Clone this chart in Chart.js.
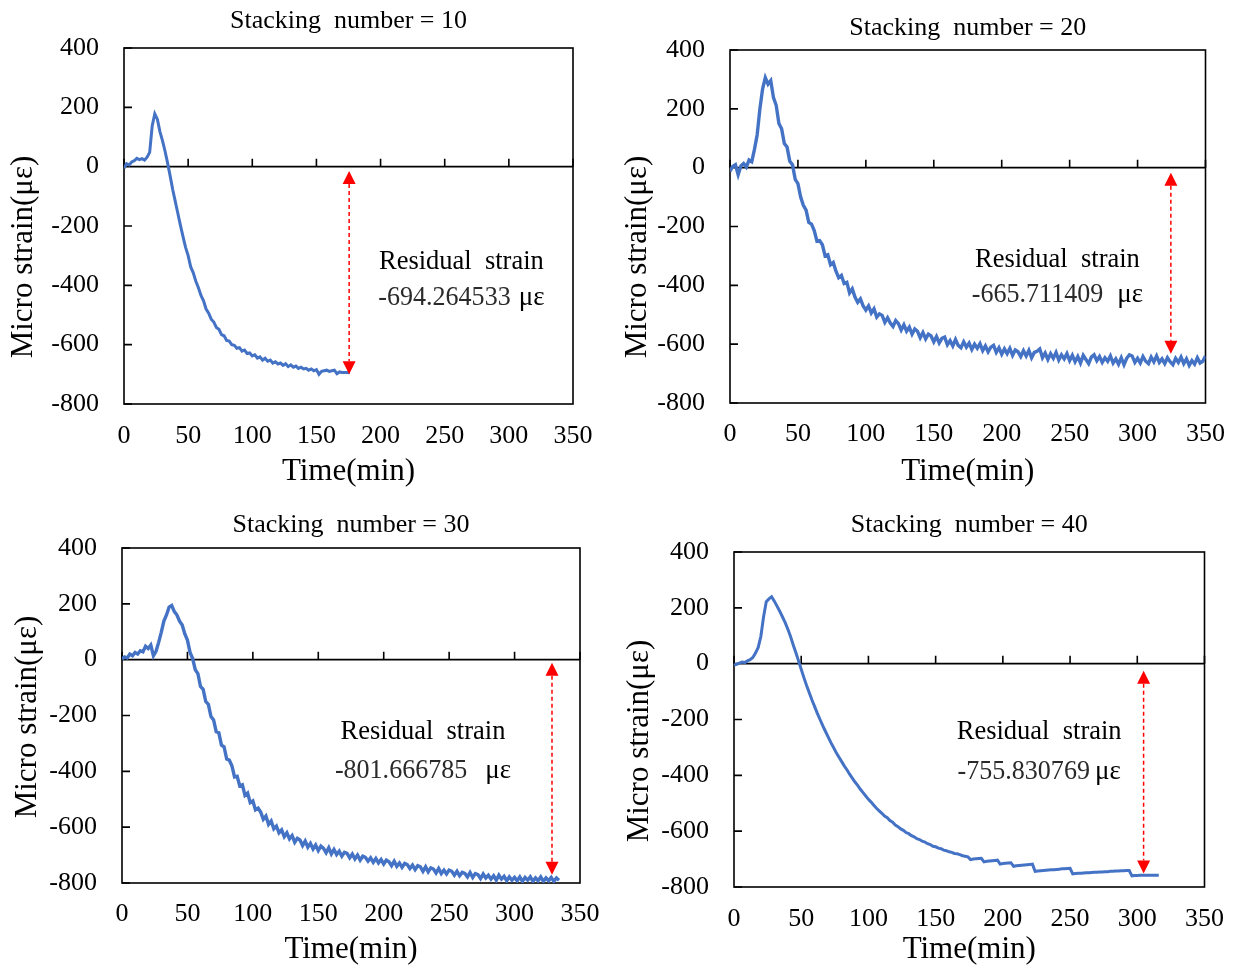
<!DOCTYPE html>
<html>
<head>
<meta charset="utf-8">
<script src="https://cdn.jsdelivr.net/npm/chart.js@4.4.1/dist/chart.umd.min.js"></script>
<style>
  html, body { margin: 0; padding: 0; background: #ffffff; }
  #wrap { position: relative; width: 1241px; height: 971px; background: #fff; }
  canvas { position: absolute; }
</style>
</head>
<body>
<div id="wrap">
  <canvas id="c1" width="620" height="490" style="left:0px;top:0px"></canvas>
  <canvas id="c2" width="621" height="490" style="left:620px;top:0px"></canvas>
  <canvas id="c3" width="620" height="481" style="left:0px;top:490px"></canvas>
  <canvas id="c4" width="621" height="481" style="left:620px;top:490px"></canvas>
</div>
<script>
// ---------- DATA ----------
const panelTitles = ['Stacking  number = 10', 'Stacking  number = 20', 'Stacking  number = 30', 'Stacking  number = 40'];
const xAxisTitle = 'Time(min)';
const yAxisTitle = 'Micro strain(\u03bc\u03b5)';
const residualLabel = 'Residual  strain';
const residualValues = ['-694.264533', '-665.711409', '-801.666785', '-755.830769'];
const strainUnit = '\u03bc\u03b5';
const xTickValues = [0, 50, 100, 150, 200, 250, 300, 350];
const yTickValues = [-800, -600, -400, -200, 0, 200, 400];

// sampling times (min)
const timeMin = [0,2,4,6,8,10,12,14,16,18,20,22,24,26,28,30,32,34,36,38,40,42,44,46,48,50,52,54,56,58,
60,62,64,66,68,70,72,74,76,78,80,82,84,86,88,90,92,94,96,98,100,102,104,106,108,110,112,114,116,118,
120,122,124,126,128,130,132,134,136,138,140,142,144,146,148,150,152,154,156,158,160,162,164,166,168,170,172,174,176,178,
180,182,184,186,188,190,192,194,196,198,200,202,204,206,208,210,212,214,216,218,220,222,224,226,228,230,232,234,236,238,
240,242,244,246,248,250,252,254,256,258,260,262,264,266,268,270,272,274,276,278,280,282,284,286,288,290,292,294,296,298,
300,302,304,306,308,310,312,314,316,318,320,322,324,326,328,330,332,334,336,338,340,342,344,346,348,350];

// Stacking number = 10 (t = 0..176)
const strainN10 = [-5,10,6,16,20,28,24,27,22,32,48,138,178,160,118,88,52,12,-32,-78,
-118,-158,-198,-236,-272,-300,-338,-358,-386,-408,-434,-452,-480,-494,-514,-524,-542,-548,-566,-570,
-586,-588,-600,-602,-612,-610,-622,-618,-630,-628,-638,-634,-645,-641,-652,-646,-656,-652,-662,-658,
-665,-662,-670,-664,-674,-668,-676,-672,-680,-676,-682,-680,-686,-682,-688,-684,-700,-690,-688,-686,
-690,-688,-686,-698,-692,-694,-694,-694,-695];

// Stacking number = 20 (t = 0..350)
const strainN20 = [-12,4,10,-24,6,14,2,26,20,62,112,200,268,306,284,296,238,212,150,132,
82,70,22,10,-40,-54,-100,-128,-144,-186,-192,-214,-250,-248,-262,-300,-296,-330,-322,-352,
-374,-366,-394,-390,-426,-412,-440,-458,-446,-470,-484,-470,-494,-480,-508,-497,-502,-526,-510,-528,
-540,-520,-530,-552,-534,-556,-542,-566,-548,-556,-578,-560,-582,-566,-572,-592,-574,-596,-580,-576,
-602,-588,-606,-584,-604,-612,-592,-610,-596,-618,-600,-614,-598,-622,-606,-626,-610,-604,-628,-612,
-634,-616,-632,-614,-638,-620,-626,-642,-622,-640,-621,-646,-628,-624,-616,-646,-630,-652,-632,-648,
-628,-654,-636,-650,-632,-656,-638,-660,-642,-664,-638,-652,-666,-644,-636,-656,-642,-662,-646,-658,
-640,-664,-650,-668,-646,-670,-648,-636,-640,-662,-648,-664,-642,-658,-666,-644,-660,-640,-662,-650,
-666,-646,-660,-670,-648,-662,-644,-666,-650,-672,-656,-668,-646,-664,-658,-640];

// Stacking number = 30 (t = 0..334)
const strainN30 = [2,10,6,20,14,26,20,32,28,48,40,52,14,30,62,98,138,160,188,194,
172,160,138,124,92,70,26,4,-36,-50,-96,-106,-150,-160,-204,-216,-258,-262,-306,-312,
-356,-360,-380,-420,-418,-452,-448,-486,-478,-512,-506,-538,-532,-546,-572,-560,-590,-578,-606,-596,
-620,-610,-634,-620,-642,-630,-654,-640,-646,-666,-650,-672,-658,-678,-664,-684,-668,-676,-692,-674,
-696,-680,-698,-686,-704,-690,-694,-710,-696,-714,-700,-718,-704,-708,-722,-710,-726,-712,-728,-716,
-732,-718,-724,-738,-722,-740,-728,-744,-730,-734,-748,-736,-752,-738,-742,-758,-742,-760,-746,-750,
-764,-748,-766,-754,-768,-754,-758,-772,-758,-774,-762,-766,-778,-762,-780,-766,-770,-784,-768,-782,
-772,-786,-774,-790,-772,-786,-776,-792,-778,-790,-780,-792,-778,-794,-780,-790,-778,-794,-782,-792,
-778,-794,-782,-792,-780,-794,-782,-790];

// Stacking number = 40 (t = 0..316)
const strainN40 = [-5,-2,2,6,4,10,14,22,38,58,98,168,222,232,240,224,206,188,168,148,
124,98,68,40,10,-20,-50,-78,-104,-130,-154,-178,-200,-222,-242,-262,-282,-300,-318,-334,
-350,-366,-380,-396,-410,-424,-436,-450,-462,-474,-486,-496,-507,-518,-527,-536,-546,-552,-562,-568,
-578,-584,-592,-597,-605,-609,-616,-620,-627,-630,-636,-639,-645,-648,-654,-656,-661,-663,-668,-670,
-674,-676,-680,-681,-684,-688,-690,-692,-702,-700,-699,-698,-697,-710,-708,-707,-706,-705,-704,-718,
-716,-715,-714,-713,-726,-724,-723,-722,-721,-720,-719,-718,-744,-743,-742,-741,-740,-739,-738,-738,
-737,-736,-735,-735,-734,-733,-753,-752,-751,-751,-750,-749,-749,-748,-747,-747,-746,-746,-745,-745,
-744,-744,-743,-743,-742,-742,-741,-741,-760,-759,-759,-758,-758,-758,-758,-758,-758,-758,-758];

// ---------- RENDER ----------
const SERIF = '"Liberation Serif", "Times New Roman", serif';

const framePlugin = {
  id: 'frame',
  beforeDatasetsDraw(chart, args, o) {
    const {ctx, chartArea: a, scales: {x, y}} = chart;
    ctx.save();
    ctx.strokeStyle = '#000';
    ctx.lineWidth = 1.6;
    ctx.strokeRect(a.left, a.top, a.right - a.left, a.bottom - a.top);
    const y0 = y.getPixelForValue(0);
    ctx.beginPath();
    ctx.moveTo(a.left, y0); ctx.lineTo(a.right, y0);
    x.ticks.forEach(t => { const px = x.getPixelForValue(t.value); ctx.moveTo(px, y0); ctx.lineTo(px, y0 - 8); });
    y.ticks.forEach(t => { const py = y.getPixelForValue(t.value); ctx.moveTo(a.left, py); ctx.lineTo(a.left + 8, py); });
    ctx.stroke();
    ctx.restore();
  },
  afterDatasetsDraw(chart, args, o) {
    const {ctx, chartArea: a, scales: {x, y}} = chart;
    ctx.save();
    // red dashed double arrow
    const px = x.getPixelForValue(o.arrowX);
    const pT = y.getPixelForValue(o.arrowTop);
    const pB = y.getPixelForValue(o.arrowBottom);
    const hl = 13, hw = 6.5;
    ctx.strokeStyle = '#FF0000';
    ctx.lineWidth = 1.5;
    ctx.setLineDash([4, 3]);
    ctx.beginPath(); ctx.moveTo(px, pT + hl); ctx.lineTo(px, pB - hl); ctx.stroke();
    ctx.setLineDash([]);
    ctx.fillStyle = '#FF0000';
    ctx.beginPath(); ctx.moveTo(px, pT); ctx.lineTo(px - hw, pT + hl); ctx.lineTo(px + hw, pT + hl); ctx.closePath(); ctx.fill();
    ctx.beginPath(); ctx.moveTo(px, pB); ctx.lineTo(px - hw, pB - hl); ctx.lineTo(px + hw, pB - hl); ctx.closePath(); ctx.fill();
    // annotation text
    ctx.fillStyle = '#000';
    ctx.textBaseline = 'middle';
    ctx.textAlign = 'center';
    ctx.font = '26.5px ' + SERIF;
    ctx.fillText(residualLabel, x.getPixelForValue(o.textX), y.getPixelForValue(o.line1));
    const cx = x.getPixelForValue(o.textX) + (o.numShift || 0);
    const cy = y.getPixelForValue(o.line2);
    const sx = 0.93;
    ctx.font = '28px ' + SERIF;
    const wNum = ctx.measureText(o.num).width * sx;
    ctx.font = '27px ' + SERIF;
    const wUnit = ctx.measureText(strainUnit).width;
    const total = wNum + o.gap + wUnit;
    const start = cx - total / 2;
    ctx.save();
    ctx.translate(start, cy);
    ctx.scale(sx, 1);
    ctx.textAlign = 'left';
    ctx.font = '28px ' + SERIF;
    ctx.fillStyle = '#2a2a2a';
    ctx.fillText(o.num, 0, 0);
    ctx.restore();
    ctx.textAlign = 'left';
    ctx.font = '27px ' + SERIF;
    ctx.fillStyle = '#000';
    ctx.fillText(strainUnit, start + wNum + o.gap, cy);
    ctx.restore();
  },
  afterDraw(chart, args, o) {
    const {ctx, chartArea: a} = chart;
    ctx.save();
    ctx.fillStyle = '#000';
    ctx.textAlign = 'center';
    ctx.textBaseline = 'middle';
    // panel title
    ctx.font = '26px ' + SERIF;
    ctx.fillText(o.title, (a.left + a.right) / 2, o.titleY);
    // y axis title
    ctx.translate(o.yTitleX, o.yTitleY);
    ctx.rotate(-Math.PI / 2);
    ctx.font = '31px ' + SERIF;
    ctx.fillText(yAxisTitle, 0, 0);
    ctx.restore();
  }
};

function makePanel(id, values, p) {
  const pts = values.map((v, i) => ({x: timeMin[i], y: v}));
  const tickFont = {family: SERIF, size: 26};
  return new Chart(document.getElementById(id), {
    type: 'line',
    data: {datasets: [{data: pts, borderColor: '#4472C4', borderWidth: p.lw, pointRadius: 0, tension: 0, fill: false}]},
    options: {
      responsive: false,
      animation: false,
      devicePixelRatio: 1,
      layout: {padding: {left: 0, right: p.padRight, top: p.padTop, bottom: 0}},
      plugins: {
        legend: {display: false},
        tooltip: {enabled: false},
        title: {display: false},
        frame: p.frame
      },
      scales: {
        x: {
          type: 'linear', min: 0, max: 350,
          afterBuildTicks: s => { s.ticks = xTickValues.map(v => ({value: v})); },
          ticks: {font: tickFont, color: '#000', padding: p.xTickPad, maxRotation: 0, autoSkip: false},
          grid: {display: false, drawTicks: false},
          border: {display: false},
          title: {display: true, text: xAxisTitle, color: '#000', font: {family: SERIF, size: 31}, padding: {top: 0, bottom: p.xTitlePad}},
          afterFit: s => { s.height = p.xH; }
        },
        y: {
          type: 'linear', min: -800, max: 400,
          afterBuildTicks: s => { s.ticks = yTickValues.map(v => ({value: v})); },
          ticks: {font: tickFont, color: '#000', padding: 25, autoSkip: false},
          grid: {display: false, drawTicks: false},
          border: {display: false},
          afterFit: s => { s.width = p.yW; }
        }
      }
    },
    plugins: [framePlugin]
  });
}

makePanel('c1', strainN10, {lw: 3, padRight: 47, padTop: 48, xH: 86, yW: 124, xTickPad: 17, xTitlePad: 0,
  frame: {title: panelTitles[0], titleY: 21, yTitleX: 24, yTitleY: 257, arrowX: 175.5, arrowTop: -15, arrowBottom: -700,
          textX: 263, line1: -320, line2: -443, num: residualValues[0], gap: 8}});
makePanel('c2', strainN20, {lw: 3.4, padRight: 31, padTop: 50, xH: 87, yW: 110, xTickPad: 16, xTitlePad: 0,
  frame: {title: panelTitles[1], titleY: 28, yTitleX: 18, yTitleY: 257, arrowX: 324.5, arrowTop: -17, arrowBottom: -633,
          textX: 241, line1: -313, line2: -432, num: residualValues[1], gap: 14}});
makePanel('c3', strainN30, {lw: 3.4, padRight: 40, padTop: 58, xH: 88, yW: 122, xTickPad: 16, xTitlePad: 3,
  frame: {title: panelTitles[2], titleY: 35, yTitleX: 28, yTitleY: 227, arrowX: 328.6, arrowTop: -11, arrowBottom: -770,
          textX: 230, line1: -261, line2: -398, num: residualValues[2], gap: 18}});
makePanel('c4', strainN40, {lw: 3, padRight: 28, padTop: 62, xH: 84, yW: 114, xTickPad: 17, xTitlePad: 3,
  frame: {title: panelTitles[3], titleY: 35, yTitleX: 20, yTitleY: 251, arrowX: 304.7, arrowTop: -25, arrowBottom: -752,
          textX: 227, line1: -244, line2: -387, num: residualValues[3], gap: 5}});
</script>
</body>
</html>
